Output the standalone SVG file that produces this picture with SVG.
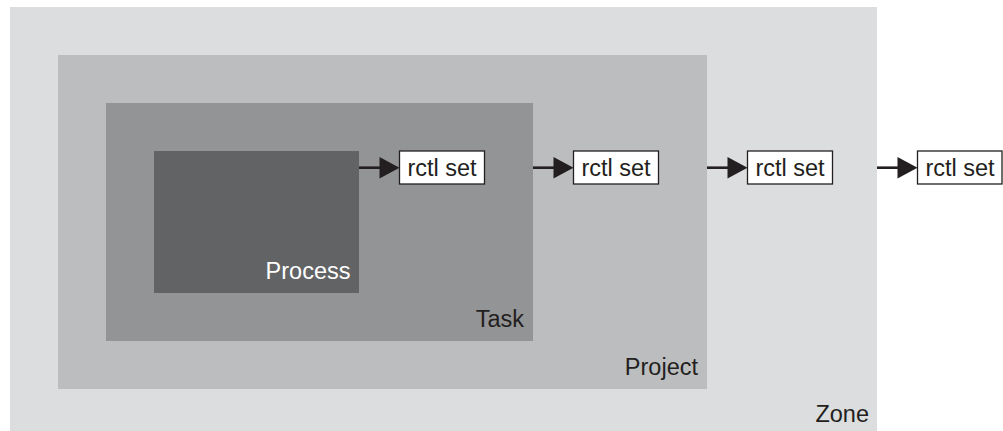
<svg xmlns="http://www.w3.org/2000/svg" width="1003" height="431" viewBox="0 0 1003 431">
<defs>
<style>
text{font-family:"Liberation Sans",Arial,sans-serif;font-size:23.5px}
.lbl{fill:#231f20;text-anchor:end}
.box rect{fill:#fff;stroke:#231f20;stroke-width:1.3}
.box text{fill:#231f20;text-anchor:middle}
.conn line{stroke:#231f20;stroke-width:2.6}
.conn polygon{fill:#231f20}
</style>
</defs>
<rect width="1003" height="431" fill="#fff"/>
<g id="zone">
<rect x="10" y="7" width="867" height="424" fill="#dcdddf"/>
<text class="lbl" x="869" y="421.5">Zone</text>
</g>
<g id="project">
<rect x="58" y="55" width="649" height="334" fill="#bcbdbf"/>
<text class="lbl" x="698" y="375">Project</text>
</g>
<g id="task">
<rect x="106" y="103" width="427" height="238" fill="#939496"/>
<text class="lbl" x="524" y="326.5">Task</text>
</g>
<g id="process">
<rect x="154" y="151" width="205" height="142" fill="#626365"/>
<text class="lbl" x="350.5" y="279" style="fill:#fff">Process</text>
</g>
<g id="connectors" class="conn">
<line x1="359" y1="167.7" x2="382" y2="167.7"/>
<polygon points="379.5,157 399.5,167.7 379.5,178.4"/>
<line x1="533" y1="167.7" x2="556" y2="167.7"/>
<polygon points="553.5,157 573.5,167.7 553.5,178.4"/>
<line x1="707" y1="167.7" x2="730" y2="167.7"/>
<polygon points="727.5,157 747.5,167.7 727.5,178.4"/>
<line x1="877" y1="167.7" x2="900" y2="167.7"/>
<polygon points="897.5,157 917.5,167.7 897.5,178.4"/>
</g>
<g id="rctl1" class="box"><rect x="399.5" y="151" width="85" height="33"/><text x="442" y="176">rctl set</text></g>
<g id="rctl2" class="box"><rect x="573.5" y="151" width="85" height="33"/><text x="616" y="176">rctl set</text></g>
<g id="rctl3" class="box"><rect x="747.5" y="151" width="85" height="33"/><text x="790" y="176">rctl set</text></g>
<g id="rctl4" class="box"><rect x="917.5" y="151" width="84.5" height="33"/><text x="960" y="176">rctl set</text></g>
</svg>
